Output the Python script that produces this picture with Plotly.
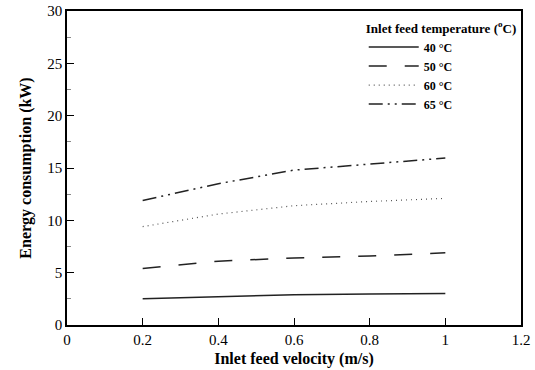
import plotly.graph_objects as go

velocity = [0.2, 0.4, 0.6, 0.8, 1.0]
temps = ["<b>40 °C</b>", "<b>50 °C</b>", "<b>60 °C</b>", "<b>65 °C</b>"]
e40 = [2.5, 2.7, 2.9, 2.95, 3.0]
e50 = [5.4, 6.1, 6.4, 6.6, 6.9]
e60 = [9.4, 10.6, 11.4, 11.8, 12.1]
e65 = [11.9, 13.5, 14.8, 15.4, 15.95]
series = [e40, e50, e60, e65]
dashes = ["solid", "18px,18px", "1px,4px", "14px,5px,2px,5px,2px,5px"]
widths = [1.5, 1.5, 1.2, 1.5]
colors = ["#222222", "#222222", "#555555", "#222222"]

fig = go.Figure()
for name, vals, d, w, c in zip(temps, series, dashes, widths, colors):
    fig.add_trace(go.Scatter(x=velocity, y=vals, mode="lines", name=name,
                             line=dict(color=c, width=w, dash=d)))

font = "Times New Roman, Liberation Serif, serif"
fig.update_layout(
    width=535, height=370,
    margin=dict(l=67, r=14, t=11, b=45),
    paper_bgcolor="white", plot_bgcolor="white",
    font=dict(family=font, color="black", size=15),
    showlegend=True,
    legend=dict(
        title=dict(text="<b>Inlet feed temperature (<sup>o</sup>C)</b>", font=dict(size=13, family=font)),
        x=0.995, y=0.985, xanchor="right", yanchor="top",
        bgcolor="rgba(0,0,0,0)", font=dict(size=12, family=font),
        itemwidth=50, tracegroupgap=0,
    ),
    xaxis=dict(
        range=[0, 1.2], tickmode="array",
        tickvals=[0, 0.2, 0.4, 0.6, 0.8, 1.0, 1.2],
        ticktext=["0", "0.2", "0.4", "0.6", "0.8", "1", "1.2"],
        ticks="inside", ticklen=7, tickwidth=1, tickcolor="black",
        showline=True, linecolor="black", linewidth=1.5, mirror=True,
        showgrid=False, zeroline=False, automargin=False,
        title=dict(text="<b>Inlet feed velocity (m/s)</b>", font=dict(size=16, family=font), standoff=6),
        tickfont=dict(size=15, family=font),
    ),
    yaxis=dict(
        range=[0, 30], tickmode="array",
        tickvals=[0, 5, 10, 15, 20, 25, 30],
        ticks="inside", ticklen=7, tickwidth=1, tickcolor="black",
        minor=dict(ticks="inside", ticklen=4, tickcolor="#888888", dtick=2.5, tick0=0, showgrid=False),
        showline=True, linecolor="black", linewidth=1.5, mirror=True,
        showgrid=False, zeroline=False, automargin=False,
        title=dict(text="<b>Energy consumption (kW)</b>", font=dict(size=16, family=font), standoff=12),
        tickfont=dict(size=15, family=font),
    ),
)
fig.write_html("out.html", post_script="document.body.style.margin='0';",
               config={"displayModeBar": False})
